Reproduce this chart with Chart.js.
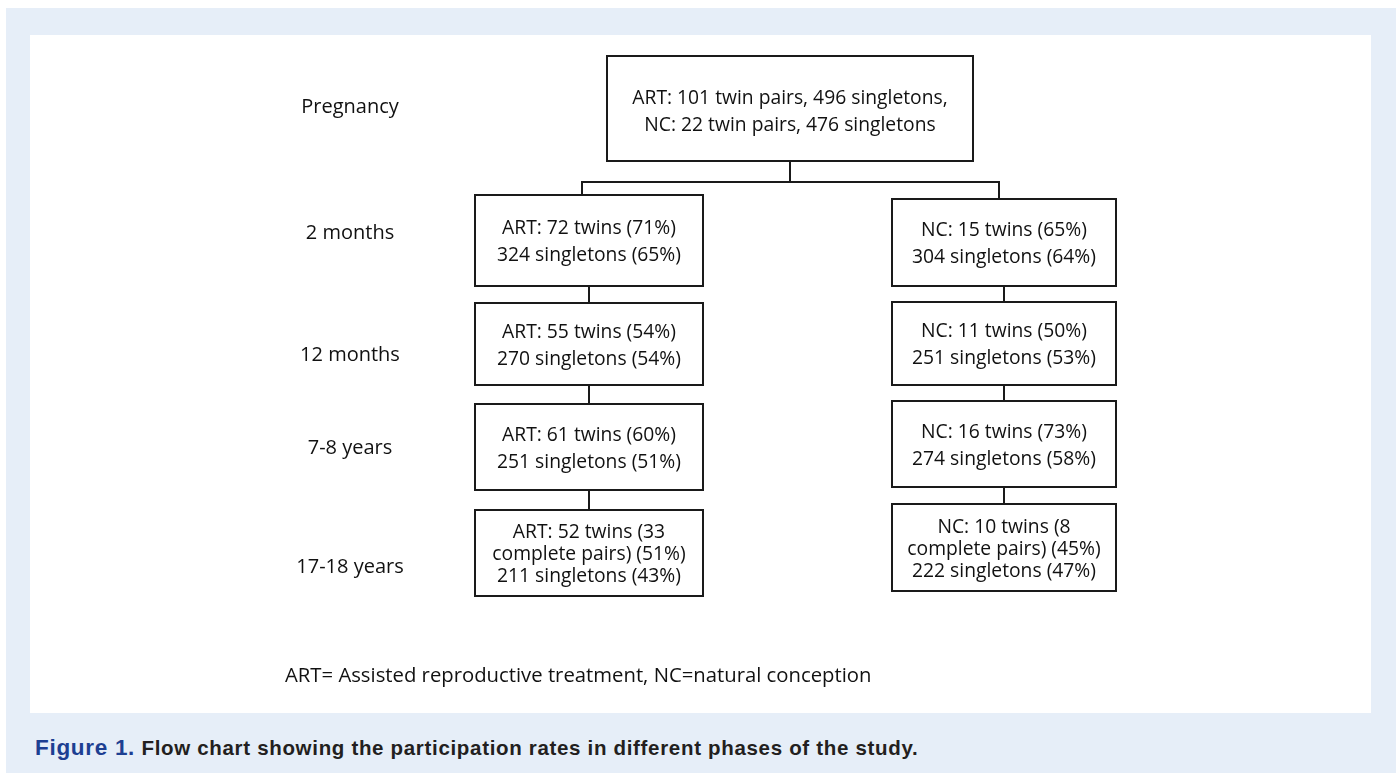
<!DOCTYPE html>
<html>
<head>
<meta charset="utf-8">
<script src="https://cdn.jsdelivr.net/npm/chart.js@4/dist/chart.umd.min.js"></script>
<style>
  html,body{margin:0;padding:0;background:#fff;}
  body{width:1396px;height:773px;position:relative;overflow:hidden;}
  #bg{position:absolute;left:6px;top:8px;width:1390px;height:765px;background:#e6eef8;}
  #panel{position:absolute;left:30px;top:35px;width:1341px;height:678px;background:#fff;}
  #cap{position:absolute;left:35px;top:737px;line-height:22px;white-space:nowrap;font-family:"Liberation Sans",sans-serif;font-weight:bold;color:#231f20;font-size:20.5px;letter-spacing:0.68px;}
  #cap .fig{color:#1d3f92;font-size:22.5px;letter-spacing:0.7px;}
</style>
</head>
<body>
<div id="bg"></div>
<div id="panel"><canvas id="c" width="1341" height="678"></canvas></div>
<div id="cap"><span class="fig">Figure 1.</span> Flow chart showing the participation rates in different phases of the study.</div>
<script>
// ---- data ----
const phases = ['Pregnancy', '2 months', '12 months', '7-8 years', '17-18 years'];
const pregnancyLines = ['ART: 101 twin pairs, 496 singletons,', 'NC: 22 twin pairs, 476 singletons'];
const artTwins = [72, 55, 61, 52];
const artTwinPct = [71, 54, 60, 51];
const artSingletons = [324, 270, 251, 211];
const artSingPct = [65, 54, 51, 43];
const ncTwins = [15, 11, 16, 10];
const ncTwinPct = [65, 50, 73, 45];
const ncSingletons = [304, 251, 274, 222];
const ncSingPct = [64, 53, 58, 47];
const artCompletePairs = 33;
const ncCompletePairs = 8;
const footnote = 'ART= Assisted reproductive treatment, NC=natural conception';

// ---- layout (page coordinates) ----
const phaseLabelX = 350;
const phaseLabelY = [107, 233, 355, 448, 567];
const topBox = {x0: 607, x1: 973, y0: 56, y1: 161};
const branchY = 182;
const artX = [475, 703], ncX = [892, 1116];
const artY = [[195, 286], [303, 385], [404, 490], [510, 596]];
const ncY = [[199, 286], [302, 385], [401, 487], [504, 591]];
const artStemX = 582, ncStemX = 999;
const artLinkX = 589, ncLinkX = 1004;
const BOX_FONT = '19.3px "Open Sans", Lato, sans-serif';
const LABEL_FONT = '20px "Open Sans", Lato, sans-serif';
const NOTE_FONT = '20.3px "Open Sans", Lato, sans-serif';

function boxLines(group, i) {
  const isArt = group === 'ART';
  const tw = isArt ? artTwins : ncTwins, tp = isArt ? artTwinPct : ncTwinPct;
  const sg = isArt ? artSingletons : ncSingletons, sp = isArt ? artSingPct : ncSingPct;
  const cp = isArt ? artCompletePairs : ncCompletePairs;
  if (i === tw.length - 1) {
    return [group + ': ' + tw[i] + ' twins (' + cp, 'complete pairs) (' + tp[i] + '%)', sg[i] + ' singletons (' + sp[i] + '%)'];
  }
  return [group + ': ' + tw[i] + ' twins (' + tp[i] + '%)', sg[i] + ' singletons (' + sp[i] + '%)'];
}

const flowPlugin = {
  id: 'flow',
  afterDatasetsDraw(chart) {
    const ctx = chart.ctx, xs = chart.scales.x, ys = chart.scales.y;
    const X = v => xs.getPixelForValue(v), Y = v => ys.getPixelForValue(v);
    ctx.save();
    ctx.strokeStyle = '#1a1a1a';
    ctx.lineWidth = 2;
    ctx.fillStyle = '#111';
    ctx.textAlign = 'center';
    ctx.textBaseline = 'middle';
    const rect = (x0, x1, y0, y1) => { ctx.strokeRect(X(x0), Y(y0), X(x1) - X(x0), Y(y1) - Y(y0)); };
    const line = pts => { ctx.beginPath(); pts.forEach((p, k) => k ? ctx.lineTo(X(p[0]), Y(p[1])) : ctx.moveTo(X(p[0]), Y(p[1]))); ctx.stroke(); };
    const text = (lines, cx, cy, lh) => {
      const start = cy - (lines.length - 1) * lh / 2;
      lines.forEach((t, k) => ctx.fillText(t, X(cx), Y(start + k * lh)));
    };
    ctx.font = BOX_FONT;
    // top box
    rect(topBox.x0, topBox.x1, topBox.y0, topBox.y1);
    text(pregnancyLines, (topBox.x0 + topBox.x1) / 2, (topBox.y0 + topBox.y1) / 2 + 4, 27);
    // branch
    const mid = (topBox.x0 + topBox.x1) / 2;
    line([[mid, topBox.y1], [mid, branchY]]);
    line([[artStemX, artY[0][0]], [artStemX, branchY], [ncStemX, branchY], [ncStemX, ncY[0][0]]]);
    // columns
    [['ART', artX, artY, artLinkX], ['NC', ncX, ncY, ncLinkX]].forEach(([g, bx, by, lx]) => {
      by.forEach((yy, i) => {
        rect(bx[0], bx[1], yy[0], yy[1]);
        const ls = boxLines(g, i);
        text(ls, (bx[0] + bx[1]) / 2, (yy[0] + yy[1]) / 2 + 2, ls.length > 2 ? 22 : 27);
        if (i > 0) line([[lx, by[i - 1][1]], [lx, yy[0]]]);
      });
    });
    // phase labels
    ctx.font = LABEL_FONT;
    phases.forEach((p, i) => ctx.fillText(p, X(phaseLabelX), Y(phaseLabelY[i])));
    // footnote
    ctx.font = NOTE_FONT;
    ctx.textAlign = 'left';
    ctx.fillText(footnote, X(285), Y(676));
    ctx.restore();
  }
};

new Chart(document.getElementById('c'), {
  type: 'scatter',
  data: {
    datasets: [{
      data: phases.map((p, i) => ({x: phaseLabelX, y: phaseLabelY[i]})),
      pointRadius: 0, showLine: false
    }]
  },
  options: {
    responsive: false, animation: false,
    layout: {padding: 0},
    plugins: {legend: {display: false}, tooltip: {enabled: false}},
    scales: {
      x: {type: 'linear', min: 30, max: 1371, display: false},
      y: {type: 'linear', min: 35, max: 713, reverse: true, display: false}
    }
  },
  plugins: [flowPlugin]
});
</script>
</body>
</html>
